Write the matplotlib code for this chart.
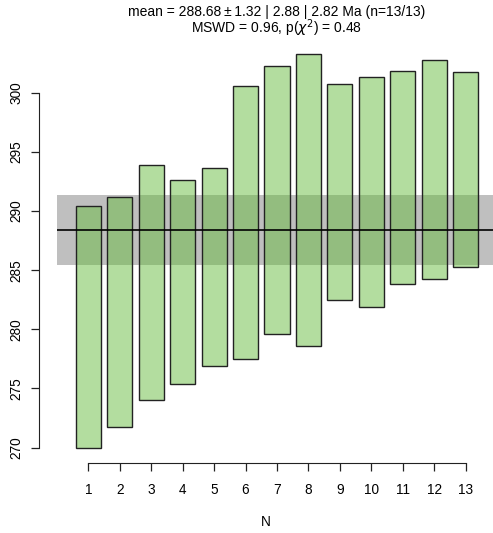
import matplotlib
matplotlib.use("Agg")
import matplotlib.pyplot as plt
from matplotlib.patches import Rectangle

plt.rcParams["font.family"] = ["Liberation Sans", "DejaVu Sans"]

# data
aliquot = list(range(1, 14))
upper = [290.45, 291.19, 293.92, 292.62, 293.61, 300.59, 302.26,
         303.24, 300.71, 301.30, 301.86, 302.74, 301.72]
lower = [269.95, 271.75, 274.06, 275.36, 276.93, 277.50, 279.63,
         278.62, 282.51, 281.89, 283.83, 284.23, 285.25]
mean_line = 288.40
band_lo, band_hi = 285.45, 291.35
yticks = [270, 275, 280, 285, 290, 295, 300]

title1 = "mean = 288.68\u2009\u00b1\u20091.32 | 2.88 | 2.82 Ma (n=13/13)"
title2 = "MSWD = 0.96, p($\\chi^2$) = 0.48"

BAR_COLOR = (105 / 255, 189 / 255, 65 / 255, 0.5)

fig = plt.figure(figsize=(4.93, 5.33), dpi=100)
ax = fig.add_axes([0.0791, 0.1308, 0.9209, 0.7968])

# grey confidence band, from 0 to n+1
x_end = len(aliquot) + 1
ax.add_patch(Rectangle((0, band_lo), x_end, band_hi - band_lo,
                       facecolor=(0.5, 0.5, 0.5, 0.5), edgecolor="none", zorder=1))

# bars
for x, lo, hi in zip(aliquot, lower, upper):
    ax.add_patch(Rectangle((x - 0.4, lo), 0.8, hi - lo, facecolor=BAR_COLOR,
                           edgecolor="#222222", linewidth=1.0, zorder=2))

# mean line on top
ax.hlines(mean_line, 0, x_end, color="black", linewidth=1.2, zorder=3)

ax.set_xlim(-0.57, 13.87)
ax.set_ylim(268.68, 304.57)

ax.set_xticks(aliquot)
ax.set_yticks(yticks)
ax.set_yticklabels([str(t) for t in yticks], rotation=90, va="center")

for s in ["top", "right"]:
    ax.spines[s].set_visible(False)
ax.spines["left"].set_bounds(270, 300)
ax.spines["bottom"].set_bounds(1, 13)
ax.spines["left"].set_color("#222222")
ax.spines["bottom"].set_color("#222222")

ax.tick_params(axis="both", direction="out", length=5.5, width=0.9,
               color="#222222", labelsize=9.8)
ax.tick_params(axis="x", pad=9)
ax.tick_params(axis="y", pad=6)

ax.set_xlabel("N", fontsize=9.8, labelpad=13)

fig.text(277 / 493, 1 - 12.3 / 533, title1, ha="center", va="center", fontsize=10)
fig.text(277 / 493, 1 - 28.3 / 533, title2, ha="center", va="center", fontsize=10)

fig.savefig("out.png", dpi=100)
plt.close(fig)
